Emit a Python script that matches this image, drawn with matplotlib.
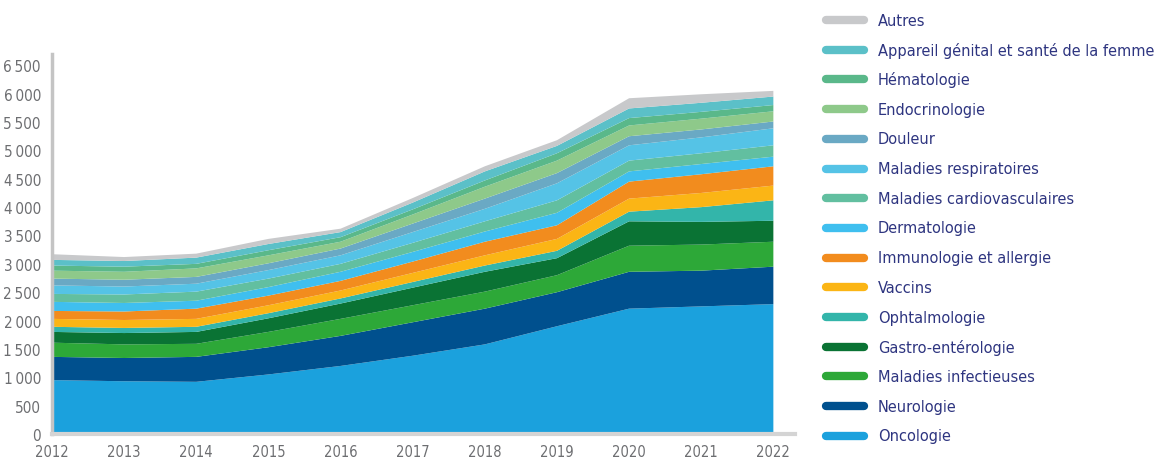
import os
import numpy as np
import matplotlib
matplotlib.use('Agg')
import matplotlib.pyplot as plt
from matplotlib.lines import Line2D
from matplotlib import font_manager

# condensed face if one is installed, otherwise plain Liberation Sans
narrow = None
for f in font_manager.fontManager.ttflist:
    base = os.path.basename(f.fname)
    if base in ('LiberationSansNarrow-Regular.ttf', 'DejaVuSansCondensed.ttf'):
        narrow = f.fname
        if base.startswith('Liberation'):
            break
if narrow:
    fp = font_manager.FontProperties(fname=narrow)
    scale = 1.0
else:
    fp = font_manager.FontProperties(family='Liberation Sans')
    scale = 0.85

years = [2012, 2013, 2014, 2015, 2016, 2017, 2018, 2019, 2020, 2021, 2022]

# cumulative tops, bottom layer first
labels = ['Oncologie', 'Neurologie', 'Maladies infectieuses', 'Gastro-entérologie',
          'Ophtalmologie', 'Vaccins', 'Immunologie et allergie', 'Dermatologie',
          'Maladies cardiovasculaires', 'Maladies respiratoires', 'Douleur',
          'Endocrinologie', 'Hématologie', 'Appareil génital et santé de la femme', 'Autres']
colors = ['#1ba1dd', '#00508e', '#2da838', '#0a7334', '#33b5aa', '#fbb515', '#f28c1e',
          '#3fbfef', '#62bfa0', '#55c3e6', '#6aa9c4', '#8ec98a', '#5ab88a', '#5bc0c8', '#c8c9cb']

cum_2012 = [950, 1360, 1610, 1800, 1890, 2030, 2170, 2330, 2470, 2620, 2740, 2880, 2970, 3070, 3170]
cum_2013 = [930, 1340, 1580, 1780, 1870, 2010, 2160, 2310, 2460, 2600, 2720, 2860, 2950, 3050, 3120]
cum_2014 = [920, 1360, 1590, 1800, 1890, 2030, 2210, 2350, 2510, 2650, 2770, 2920, 3000, 3110, 3180]
cum_2015 = [1050, 1530, 1800, 2040, 2130, 2270, 2440, 2590, 2740, 2890, 3010, 3150, 3240, 3350, 3440]
cum_2016 = [1200, 1730, 2030, 2300, 2390, 2530, 2700, 2860, 3000, 3150, 3270, 3390, 3470, 3560, 3620]
cum_2017 = [1380, 1970, 2270, 2580, 2680, 2840, 3040, 3210, 3370, 3560, 3710, 3870, 3960, 4080, 4160]
cum_2018 = [1580, 2210, 2510, 2860, 2970, 3150, 3390, 3570, 3750, 3970, 4150, 4360, 4470, 4630, 4720]
cum_2019 = [1900, 2500, 2800, 3100, 3230, 3440, 3680, 3900, 4120, 4420, 4600, 4820, 4950, 5080, 5180]
cum_2020 = [2210, 2860, 3320, 3750, 3920, 4150, 4450, 4630, 4820, 5090, 5250, 5440, 5570, 5740, 5920]
cum_2021 = [2250, 2880, 3340, 3740, 4000, 4250, 4580, 4760, 4950, 5230, 5370, 5560, 5680, 5840, 5990]
cum_2022 = [2290, 2950, 3390, 3760, 4120, 4380, 4720, 4890, 5090, 5390, 5510, 5690, 5800, 5950, 6050]

cum = np.array([cum_2012, cum_2013, cum_2014, cum_2015, cum_2016, cum_2017,
                cum_2018, cum_2019, cum_2020, cum_2021, cum_2022]).T
layers = np.diff(np.vstack([np.zeros(len(years)), cum]), axis=0)

yticks = [0, 500, 1000, 1500, 2000, 2500, 3000, 3500, 4000, 4500, 5000, 5500, 6000, 6500]

W, H = 1157, 460
fig = plt.figure(figsize=(W / 100, H / 100), dpi=100)
ax = fig.add_axes([52 / W, 25 / H, (795 - 52) / W, 380 / H])

ax.stackplot(years, layers, colors=colors, linewidth=0)

ax.set_xlim(2012, 2022.3)
ax.set_ylim(0, 6700)
ax.set_xticks(years)
ax.set_xticklabels([str(y) for y in years])
ax.set_yticks(yticks)
ax.set_yticklabels([f'{v:,}'.replace(',', '\u2009') for v in yticks])
ax.tick_params(length=0, colors='#6d6e71')
ax.tick_params(axis='x', pad=7)
ax.tick_params(axis='y', pad=8)
for t in ax.get_xticklabels():
    t.set_fontproperties(fp)
    t.set_fontsize(10.5 * scale)
for t in ax.get_yticklabels():
    t.set_fontproperties(fp)
    t.set_fontsize(11 * scale)
for s in ['top', 'right']:
    ax.spines[s].set_visible(False)
ax.spines['left'].set_color('#c4c4c4')
ax.spines['left'].set_linewidth(2.5)
ax.spines['bottom'].set_color('#d4d4d4')
ax.spines['bottom'].set_linewidth(3)

# legend drawn by hand, top entry = top layer
row0, pitch = 21, 29.7
for i, (lab, col) in enumerate(zip(labels[::-1], colors[::-1])):
    yy = 1 - (row0 + i * pitch) / H
    fig.add_artist(Line2D([826 / W, 864 / W], [yy, yy], color=col, lw=6,
                          solid_capstyle='round', transform=fig.transFigure))
    fig.text(878 / W, yy, lab, fontproperties=fp, fontsize=11.7 * scale,
             color='#2e3580', va='center', ha='left')

fig.savefig('out.png', dpi=100)
